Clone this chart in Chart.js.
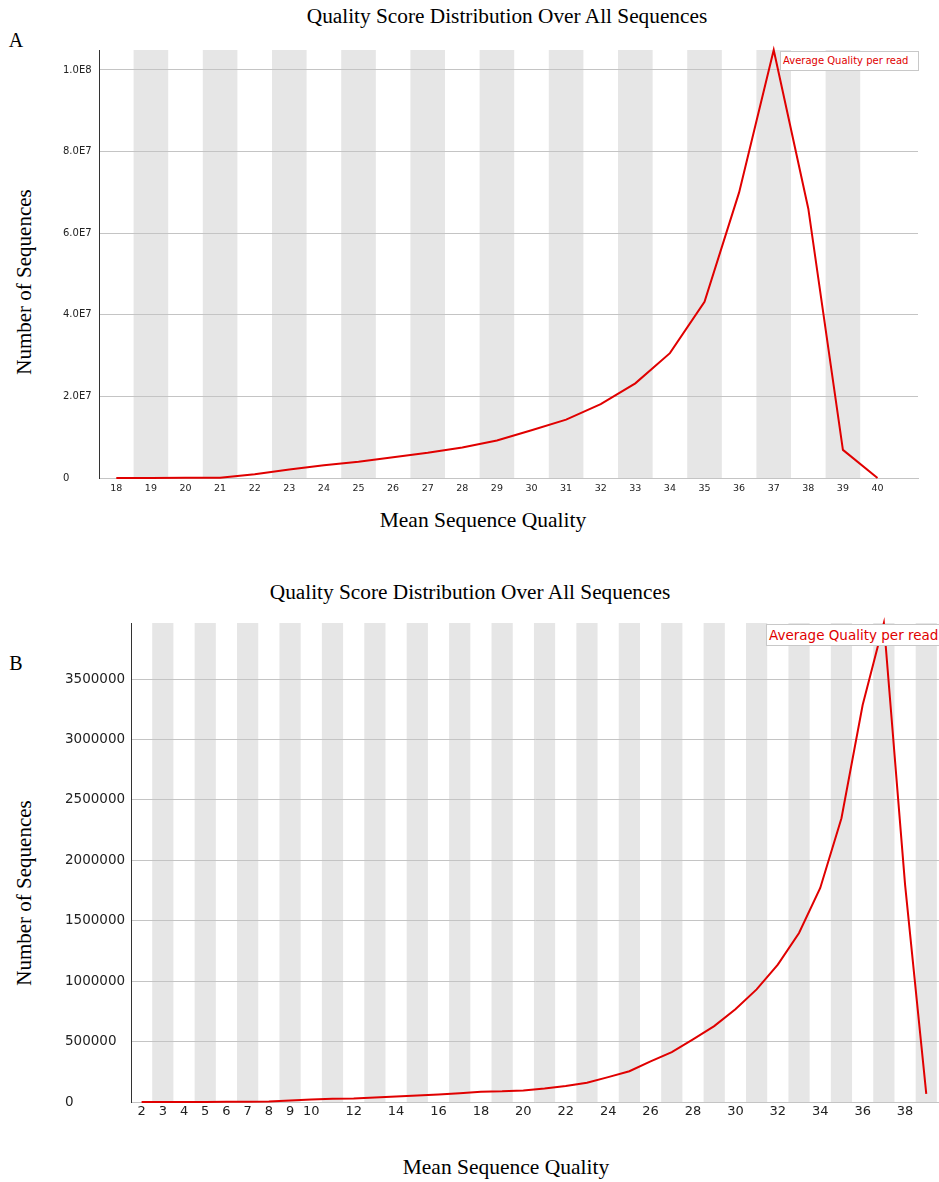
<!DOCTYPE html>
<html>
<head>
<meta charset="utf-8">
<script src="https://cdn.jsdelivr.net/npm/chart.js@4.4.0/dist/chart.umd.min.js"></script>
<style>
  html, body { margin: 0; padding: 0; background: #fff; }
  body { width: 939px; height: 1182px; position: relative; overflow: hidden; }
  .t { position: absolute; font-family: "Liberation Serif", "Times New Roman", serif; color: #000;
       white-space: nowrap; transform: translate(-50%, -50%); line-height: 1; }
  .rot { transform: translate(-50%, -50%) rotate(-90deg); }
  canvas { position: absolute; left: 0; }
  .legend { position: absolute; background: #fff; border: 1px solid #c8c8c8; color: #e00000;
            font-family: "DejaVu Sans", sans-serif; white-space: nowrap; box-sizing: border-box; }
</style>
</head>
<body>

<div class="t" style="left:507px; top:17px; font-size:21.3px;">Quality Score Distribution Over All Sequences</div>
<div class="t" style="left:16px; top:40px; font-size:20px;">A</div>
<div class="t rot" style="left:24px; top:282px; font-size:21px;">Number of Sequences</div>
<div class="t" style="left:483px; top:521px; font-size:21.5px;">Mean Sequence Quality</div>
<canvas id="chartA" width="939" height="500" style="top:0;"></canvas>
<div class="legend" style="left:780px; top:51px; width:139px; height:20px; font-size:10px; line-height:18px; padding-left:2px;">Average Quality per read</div>

<div class="t" style="left:470px; top:593px; font-size:21.3px;">Quality Score Distribution Over All Sequences</div>
<div class="t" style="left:16px; top:663px; font-size:20px;">B</div>
<div class="t rot" style="left:24px; top:893px; font-size:21px;">Number of Sequences</div>
<div class="t" style="left:506px; top:1168px; font-size:21.5px;">Mean Sequence Quality</div>
<canvas id="chartB" width="939" height="525" style="top:600px;"></canvas>
<div class="legend" style="left:766px; top:624px; width:200px; height:22px; font-size:13.5px; line-height:20px; padding-left:2px;">Average Quality per read</div>

<script>
// Panel A: mean quality per read, qualities 18..40
const qualityA = [18, 19, 20, 21, 22, 23, 24, 25, 26, 27, 28, 29, 30, 31, 32, 33, 34, 35, 36, 37, 38, 39, 40];
const readsA = [0, 20000, 50000, 80000, 900000, 2100000, 3100000, 4000000, 5100000, 6200000, 7500000,
                9200000, 11700000, 14300000, 18100000, 23200000, 30600000, 43200000, 70000000,
                104900000, 66000000, 6900000, 0];
const yTicksA = [0, 20000000, 40000000, 60000000, 80000000, 100000000];
const xTicksA = qualityA;
const bandsA = [19, 21, 23, 25, 27, 29, 31, 33, 35, 37, 39];

// Panel B: mean quality per read, qualities 2..39
const qualityB = [2, 3, 4, 5, 6, 7, 8, 9, 10, 11, 12, 13, 14, 15, 16, 17, 18, 19, 20, 21,
                  22, 23, 24, 25, 26, 27, 28, 29, 30, 31, 32, 33, 34, 35, 36, 37, 38, 39];
const readsB = [0, 500, 800, 1000, 1500, 2500, 4000, 12000, 20000, 27000, 28000, 37000, 46000,
                54000, 62000, 73000, 84000, 88000, 96000, 112000, 132000, 160000, 206000, 255000,
                336000, 413000, 518000, 628000, 767000, 932000, 1137000, 1399000, 1772000,
                2349000, 3286000, 3965000, 1800000, 68000];
const yTicksB = [0, 500000, 1000000, 1500000, 2000000, 2500000, 3000000, 3500000];
const xTicksB = [2, 3, 4, 5, 6, 7, 8, 9, 10, 12, 14, 16, 18, 20, 22, 24, 26, 28, 30, 32, 34, 36, 38];
const bandsB = [3, 5, 7, 9, 11, 13, 15, 17, 19, 21, 23, 25, 27, 29, 31, 33, 35, 37, 39];

const LINE_RED = '#e00000';
const BAND_GREY = '#e6e6e6';
const GRID_GREY = '#c4c4c4';

// Alternating grey column behind every other quality value
const bandPlugin = {
  id: 'qualityBands',
  beforeDraw(chart, args, opts) {
    const { ctx, chartArea: { top, bottom }, scales: { x } } = chart;
    ctx.save();
    ctx.fillStyle = BAND_GREY;
    for (const c of opts.cats) {
      const l = x.getPixelForValue(c - 0.5);
      const r = x.getPixelForValue(c + 0.5);
      ctx.fillRect(l, top, r - l, bottom - top);
    }
    ctx.restore();
  }
};

function sciLabel(v) {
  if (v === 0) return '0';
  const e = Math.floor(Math.log10(v));
  return (v / Math.pow(10, e)).toFixed(1) + 'E' + e;
}

function makeChart(id, cfg) {
  const pts = cfg.xs.map((q, i) => ({ x: q, y: cfg.ys[i] }));
  return new Chart(document.getElementById(id), {
    type: 'line',
    data: {
      datasets: [{
        label: 'Average Quality per read',
        data: pts,
        borderColor: LINE_RED,
        borderWidth: 2,
        pointRadius: 0,
        tension: 0,
        fill: false,
        clip: false
      }]
    },
    options: {
      responsive: false,
      animation: false,
      devicePixelRatio: 1,
      layout: { padding: cfg.padding },
      plugins: {
        legend: { display: false },
        tooltip: { enabled: false },
        qualityBands: { cats: cfg.bands }
      },
      scales: {
        x: {
          type: 'linear',
          min: cfg.xmin,
          max: cfg.xmax,
          grid: { display: false, drawTicks: false },
          border: { display: true, color: GRID_GREY, width: 1 },
          afterBuildTicks: s => { s.ticks = cfg.xTicks.map(v => ({ value: v })); },
          afterFit: s => { s.height = cfg.xHeight; },
          ticks: {
            autoSkip: false, maxRotation: 0, padding: cfg.xPad,
            color: '#222',
            font: { family: 'DejaVu Sans', size: cfg.xFont },
            callback: v => String(v)
          }
        },
        y: {
          min: 0,
          max: cfg.ymax,
          grid: { color: GRID_GREY, lineWidth: 1, drawTicks: false },
          border: { display: true, color: '#333', width: 1 },
          afterBuildTicks: s => { s.ticks = cfg.yTicks.map(v => ({ value: v })); },
          afterFit: s => { s.width = cfg.yWidth; },
          ticks: {
            crossAlign: 'far', padding: 0,
            color: '#222',
            font: { family: 'DejaVu Sans', size: cfg.yFont },
            callback: cfg.yLabel
          }
        }
      }
    },
    plugins: [bandPlugin]
  });
}

makeChart('chartA', {
  xs: qualityA, ys: readsA, bands: bandsA,
  xTicks: xTicksA, yTicks: yTicksA,
  xmin: 17.5, xmax: 41.17, ymax: 104900000,
  padding: { left: 63, top: 50, right: 21, bottom: 0 },
  yWidth: 36, xHeight: 22, xPad: 5, xFont: 9.5, yFont: 10,
  yLabel: v => sciLabel(v)
});

makeChart('chartB', {
  xs: qualityB, ys: readsB, bands: bandsB,
  xTicks: xTicksB, yTicks: yTicksB,
  xmin: 1.5, xmax: 39.6, ymax: 3965000,
  padding: { left: 65, top: 23, right: 0, bottom: 0 },
  yWidth: 66, xHeight: 23, xPad: 2, xFont: 13, yFont: 13.5,
  yLabel: v => String(v)
});
</script>
</body>
</html>
